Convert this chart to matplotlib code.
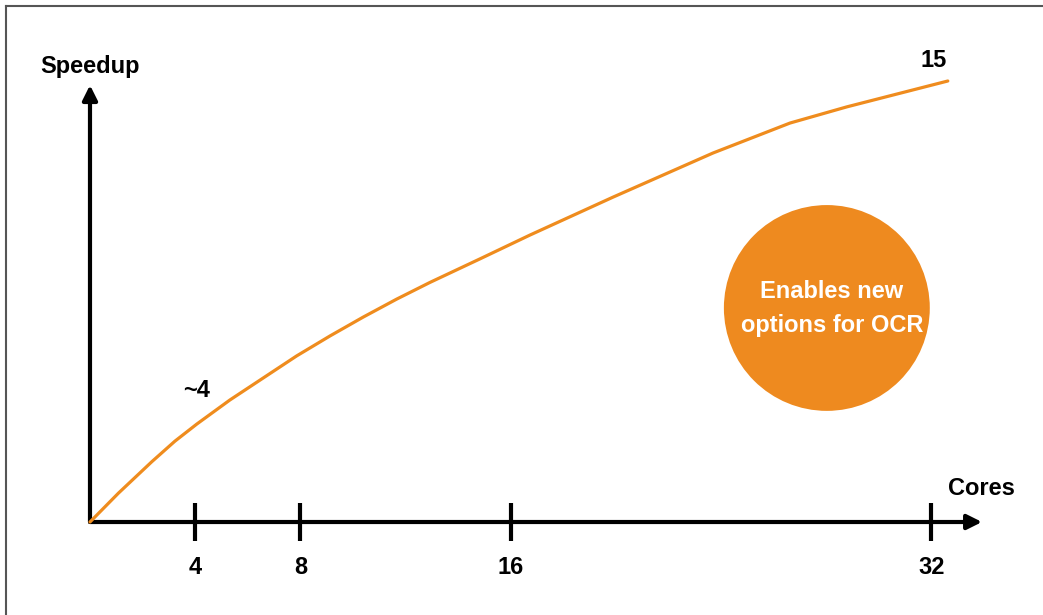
import matplotlib.pyplot as plt
from matplotlib.patches import Ellipse
from matplotlib.lines import Line2D

# speedup curve
cores = [0, 1.08, 2.35, 3.23, 4.06, 5.32, 6.59, 7.86, 9.13, 10.39, 11.66, 12.93,
         14.83, 16.73, 19.89, 23.69, 26.62, 28.78, 32.62]
speedup = [0, 0.98, 2.05, 2.75, 3.33, 4.15, 4.9, 5.65, 6.33, 6.97, 7.58, 8.15,
           8.95, 9.76, 11.05, 12.55, 13.57, 14.12, 15.0]
tick_cores = [4, 8, 16, 32]
tick_labels = ['4', '8', '16', '32']

orange = '#EF8C1E'
plt.rcParams['font.family'] = ['Liberation Sans', 'DejaVu Sans']

fig = plt.figure(figsize=(10.43, 6.15), dpi=100)
ax = fig.add_axes([0, 0, 1, 1])
ax.set_xlim(-3.422, 36.24)
ax.set_ylim(-3.163, 17.755)
ax.axis('off')

# frame (only top and left visible on the cropped slide)
fig.add_artist(Line2D([6 / 1043, 1], [1 - 6 / 615, 1 - 6 / 615], color='#555555', lw=1.5))
fig.add_artist(Line2D([6 / 1043, 6 / 1043], [0, 1 - 6 / 615], color='#555555', lw=1.5))

# axes with arrow heads
arr = dict(arrowstyle='-|>', lw=3, color='black', mutation_scale=22, shrinkA=0, shrinkB=0)
ax.annotate('', xy=(0, 14.86), xytext=(0, 0), arrowprops=arr)
ax.annotate('', xy=(33.92, 0), xytext=(0, 0), arrowprops=arr)

for c, lab in zip(tick_cores, tick_labels):
    ax.plot([c, c], [-0.65, 0.65], color='black', lw=3, solid_capstyle='butt')
    ax.text(c, -1.77, lab, ha='center', va='baseline', fontsize=17, fontweight='bold')

ax.plot(cores, speedup, color=orange, lw=2.3, solid_capstyle='round',
        solid_joinstyle='round', zorder=5)

ax.text(0, 15.27, 'Speedup', ha='center', va='baseline', fontsize=17, fontweight='bold')
ax.text(33.88, 0.92, 'Cores', ha='center', va='baseline', fontsize=17, fontweight='bold')
ax.text(4.05, 4.25, '~4', ha='center', va='baseline', fontsize=17, fontweight='bold')
ax.text(32.09, 15.48, '15', ha='center', va='baseline', fontsize=17, fontweight='bold')

ax.add_patch(Ellipse((28.02, 7.28), 7.83, 7.0, color='#EE8A1F', lw=0))
ax.text(28.21, 7.62, 'Enables new', ha='center', va='baseline', fontsize=17,
        fontweight='bold', color='white')
ax.text(28.21, 6.46, 'options for OCR', ha='center', va='baseline', fontsize=17,
        fontweight='bold', color='white')

fig.savefig('out.png', dpi=100)
